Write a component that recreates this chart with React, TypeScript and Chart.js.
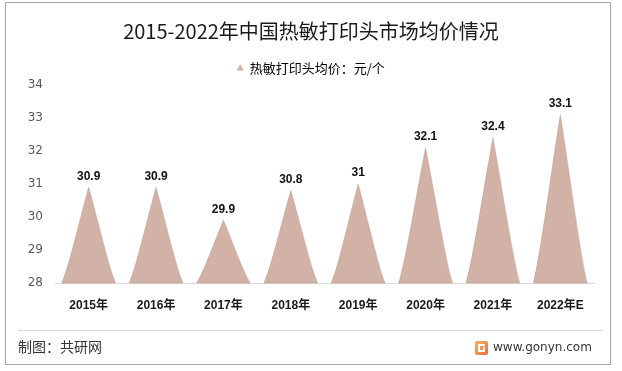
import { useEffect, useRef } from "react";
import { Chart, registerables } from "chart.js";

Chart.register(...registerables);

const titleText = "2015-2022年中国热敏打印头市场均价情况";
const seriesName = "热敏打印头均价：元/个";
const categories = ["2015年", "2016年", "2017年", "2018年", "2019年", "2020年", "2021年", "2022年E"];
const prices = [30.9, 30.9, 29.9, 30.8, 31, 32.1, 32.4, 33.1];
const yMin = 28;
const yMax = 34;
const yStep = 1;

const spikeColor = "#d2b2a6";
const spikeEdge = "rgba(185,145,130,0.7)";
const latin = "'Liberation Sans', 'Noto Sans CJK SC', sans-serif";
const cjk = "'Microsoft YaHei', 'Noto Sans CJK SC', sans-serif";

const spikePlugin = {
  id: "spikes",
  afterDatasetsDraw(chart: any) {
    const ctx = chart.ctx;
    const meta = chart.getDatasetMeta(0);
    ctx.save();
    meta.data.forEach((bar: any, i: number) => {
      const { x, y, base, width } = bar.getProps(["x", "y", "base", "width"], true);
      const hw = width / 2;
      const h = base - y;
      ctx.beginPath();
      ctx.moveTo(x - hw, base);
      ctx.bezierCurveTo(x - 0.75 * hw, y + 0.85 * h, x - 0.3 * hw, y + 0.3 * h, x, y);
      ctx.bezierCurveTo(x + 0.3 * hw, y + 0.3 * h, x + 0.75 * hw, y + 0.85 * h, x + hw, base);
      ctx.closePath();
      ctx.fillStyle = spikeColor;
      ctx.fill();
      ctx.lineWidth = 0.6;
      ctx.strokeStyle = spikeEdge;
      ctx.stroke();

      const v = chart.data.datasets[0].data[i];
      ctx.fillStyle = "#111";
      ctx.font = `bold 12px ${latin}`;
      ctx.textAlign = "center";
      ctx.textBaseline = "bottom";
      ctx.fillText(String(v), x, y - 5);
    });
    ctx.restore();
  },
};

export default function App() {
  const ref = useRef<HTMLCanvasElement | null>(null);

  useEffect(() => {
    if (!ref.current) return;
    const chart = new Chart(ref.current, {
      type: "bar",
      data: {
        labels: categories,
        datasets: [
          {
            label: seriesName,
            data: prices,
            base: yMin,
            backgroundColor: "rgba(0,0,0,0)",
            borderWidth: 0,
            categoryPercentage: 0.8,
            barPercentage: 1,
          },
        ],
      },
      options: {
        responsive: false,
        animation: false,
        devicePixelRatio: 1,
        layout: { padding: { left: 28, right: 28, top: 1, bottom: 48 } },
        plugins: {
          title: {
            display: true,
            text: titleText,
            color: "#1a1a1a",
            font: { size: 20, weight: "normal", family: cjk, lineHeight: 1.2 },
            padding: { top: 18, bottom: 2 },
          },
          legend: {
            display: true,
            position: "top",
            labels: {
              usePointStyle: true,
              boxWidth: 6,
              boxHeight: 6,
              padding: 17,
              color: "#333",
              font: { size: 13, family: cjk },
              generateLabels: () => [
                {
                  text: seriesName,
                  fillStyle: spikeColor,
                  strokeStyle: spikeColor,
                  lineWidth: 0,
                  pointStyle: "triangle",
                  hidden: false,
                  datasetIndex: 0,
                },
              ],
            },
            onClick: () => {},
          },
          tooltip: { enabled: false },
        },
        scales: {
          x: {
            grid: { display: false, drawTicks: false },
            border: { display: true, color: "#d9d9d9", width: 1 },
            ticks: {
              color: "#1a1a1a",
              font: { size: 12, weight: "bold", family: latin },
              padding: 15,
            },
            afterFit: (s: any) => {
              s.height = 40;
            },
          },
          y: {
            min: yMin,
            max: yMax,
            grid: { display: false, drawTicks: false },
            border: { display: false },
            ticks: {
              stepSize: yStep,
              color: "#595959",
              font: { size: 12, family: "'DejaVu Sans', sans-serif" },
              padding: 12,
            },
            afterFit: (s: any) => {
              s.width = 27;
            },
          },
        },
      },
      plugins: [spikePlugin],
    });
    return () => chart.destroy();
  }, []);

  return (
    <div style={{ position: "absolute", left: 0, top: 0, width: 622, height: 371, background: "#fff", overflow: "hidden" }}>
      <canvas ref={ref} width={622} height={371} style={{ position: "absolute", left: 0, top: 0, width: 622, height: 371 }} />
      <div style={{ position: "absolute", left: 5, top: 2, width: 606, height: 363, boxSizing: "border-box", border: "1px solid #a6a6a6", pointerEvents: "none" }} />
      <div style={{ position: "absolute", left: 18, top: 330, width: 585, height: 1, background: "#d9d9d9" }} />
      <div style={{ position: "absolute", left: 18, top: 337, fontSize: 14, lineHeight: "18px", fontFamily: cjk, color: "#333" }}>制图：共研网</div>
      <div style={{ position: "absolute", left: 475, top: 341, width: 13, height: 14, borderRadius: 2, background: "linear-gradient(135deg, #f8b55f, #ec6b3c)" }}>
        <div style={{ position: "absolute", left: 3, top: 3, width: 7, height: 2, background: "#fff" }} />
        <div style={{ position: "absolute", left: 3, top: 3, width: 2, height: 8, background: "#fff" }} />
        <div style={{ position: "absolute", left: 3, top: 9, width: 7, height: 2, background: "#fff" }} />
        <div style={{ position: "absolute", left: 8, top: 6, width: 2, height: 5, background: "#fff" }} />
      </div>
      <div style={{ position: "absolute", left: 493, top: 339, fontSize: 12, lineHeight: "16px", fontFamily: "'DejaVu Sans', sans-serif", color: "#333" }}>www.gonyn.com</div>
    </div>
  );
}
